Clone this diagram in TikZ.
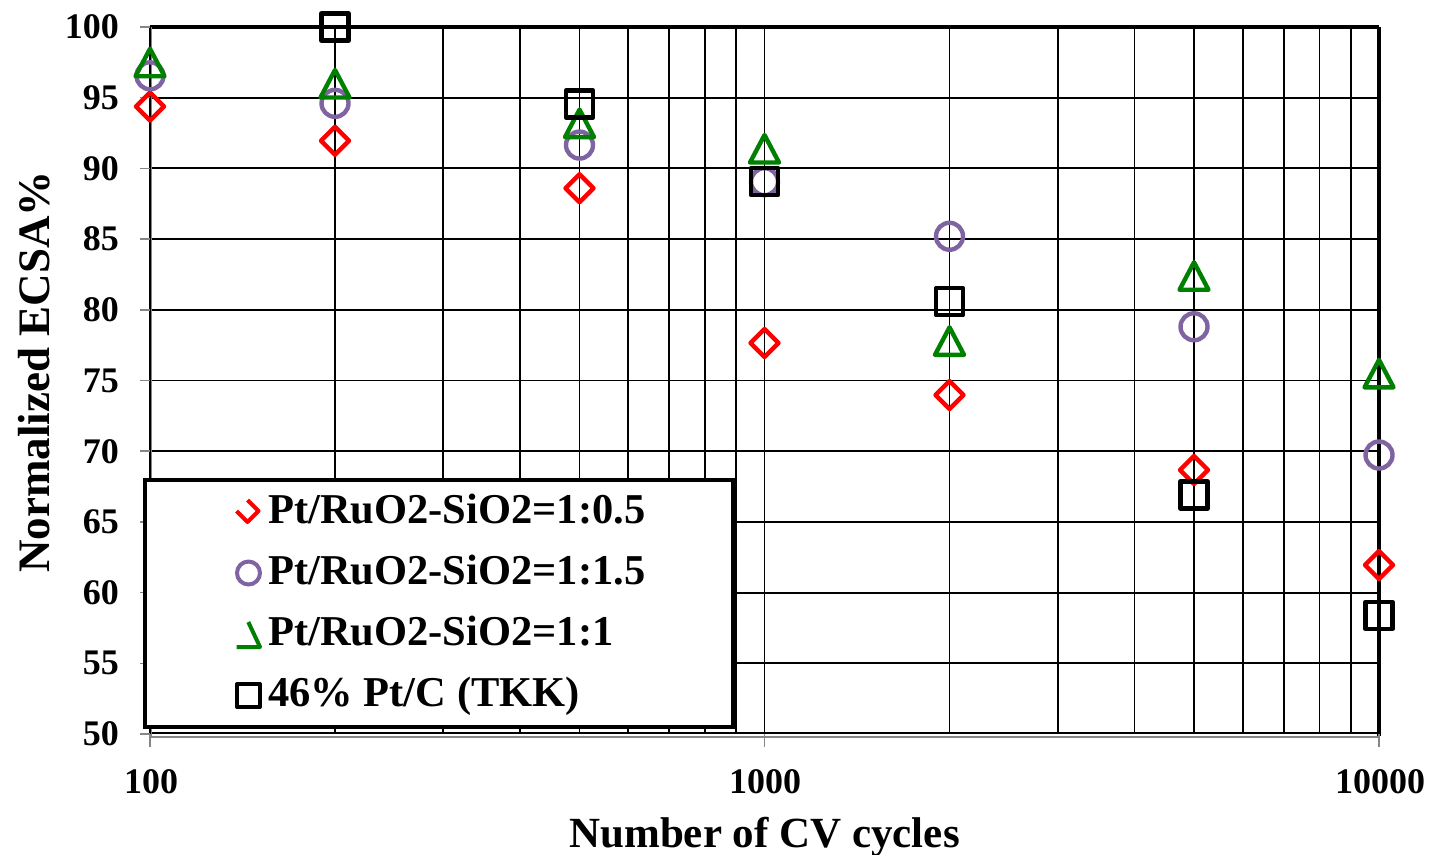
\documentclass[tikz,border=0pt]{standalone}
\usepackage{fontspec}
\setmainfont{Liberation Serif}
\definecolor{exPurple}{RGB}{128,100,162}
\definecolor{exGreen}{RGB}{0,128,0}
\definecolor{exGray}{RGB}{134,134,134}
\begin{document}
\begin{tikzpicture}[x=1pt,y=-1pt,
  gridline/.style={black,line width=1.9pt},
  axisgray/.style={exGray,line width=2pt},
  mk/.style={line width=4.4pt,line join=round},
  lmk/.style={line width=4pt,line join=round},
  ticklab/.style={font=\fontsize{36}{40}\selectfont\bfseries,inner sep=0pt},
  leglab/.style={font=\fontsize{42.5}{48}\selectfont\bfseries,inner sep=0pt,anchor=base west},
  titlelab/.style={font=\fontsize{43}{48}\selectfont\bfseries,inner sep=0pt,anchor=base},
  pics/dia/.style={code={\draw[mk,red] (-14,0)--(0,14)--(14,0)--(0,-14)--cycle;}},
  pics/circ/.style={code={\draw[mk,exPurple] (0,0) circle[radius=13.5];}},
  pics/tri/.style={code={\draw[mk,exGreen] (0,-15)--(14.5,12.5)--(-14.5,12.5)--cycle;}},
  pics/sqr/.style={code={\draw[mk,black] (-13.5,-13.5) rectangle (13.5,13.5);}}
]
\useasboundingbox (0,0) rectangle (1429,854);
% horizontal grid lines
\foreach \v in {55,60,...,95}
  \draw[gridline] (150,{734-14.14*(\v-50)}) -- (1379,{734-14.14*(\v-50)});
% vertical grid lines
\foreach \m in {2,...,9} {
  \draw[gridline] ({150+614.5*log10(\m)},27) -- ({150+614.5*log10(\m)},734);
  \draw[gridline] ({764.5+614.5*log10(\m)},27) -- ({764.5+614.5*log10(\m)},734);
}
\draw[gridline] (764.5,27) -- (764.5,734);
% plot frame
\draw[black,line width=3.5pt] (150,27) -- (1379,27);
\draw[black,line width=4.5pt] (1379,27) -- (1379,736);
\draw[black,line width=2.5pt] (150,733) -- (1381,733);
\draw[axisgray] (149,737) -- (1379,737);
\draw[black,line width=1.5pt] (150,27) -- (150,734);
\draw[exGray,line width=1.2pt] (151.5,27) -- (151.5,737);
% y ticks
\foreach \v in {50,55,...,100}
  \draw[exGray,line width=1.5pt] (140,{734-14.14*(\v-50)}) -- (150,{734-14.14*(\v-50)});
% x ticks
\foreach \x in {150,764.5,1379}
  \draw[exGray,line width=1.5pt] (\x,734) -- (\x,747);
% y tick labels
\foreach \v in {50,55,...,100}
  \node[ticklab,anchor=east] (yl\v) at (119,{734-14.14*(\v-50)}) {\v};
% x tick labels
\node[ticklab] (xl1) at (151,782) {100};
\node[ticklab] (xl2) at (765,782) {1000};
\node[ticklab] (xl3) at (1380,782) {10000};
% axis titles
\node[titlelab] (xtitle) at (764.5,847) {Number of CV cycles};
\node[titlelab,rotate=90,font=\fontsize{45}{50}\selectfont\bfseries] (ytitle) at (49,372) {Normalized ECSA\%};
% legend
\draw[black,line width=4pt,fill=white] (145,480) rectangle (733,727);
\draw[lmk,red] (236.5,511)--(247.5,522)--(258.5,511)--(247.5,500);
\draw[lmk,exPurple] (248.5,573) circle[radius=11.5];
\draw[lmk,exGreen] (248.3,622)--(260,647)--(236.7,647);
\draw[lmk,black] (237,684) rectangle (260,707);
\node[leglab] (lg1) at (268,523) {Pt/RuO2-SiO2=1:0.5};
\node[leglab] (lg2) at (268,584) {Pt/RuO2-SiO2=1:1.5};
\node[leglab] (lg3) at (268,645) {Pt/RuO2-SiO2=1:1};
\node[leglab] (lg4) at (268,706) {46\% Pt/C (TKK)};
% data series
\foreach \x/\v in {150/94.38,335/91.95,579.5/88.6,764.5/77.65,949.5/73.97,1194/68.67,1379/61.95}
  \pic at (\x,{734-14.14*(\v-50)}) {dia};
\foreach \x/\v in {150/96.55,335/94.6,579.5/91.65,764.5/89.06,949.5/85.2,1194/78.8,1379/69.73}
  \pic at (\x,{734-14.14*(\v-50)}) {circ};
\foreach \x/\v in {150/97.4,335/95.9,579.5/93.1,764.5/91.3,949.5/77.7,1194/82.3,1379/75.4}
  \pic at (\x,{734-14.14*(\v-50)}) {tri};
\foreach \x/\v in {335/100,579.5/94.55,764.5/89.06,949.5/80.57,1194/66.9,1379/58.4}
  \pic at (\x,{734-14.14*(\v-50)}) {sqr};
\end{tikzpicture}
\end{document}
